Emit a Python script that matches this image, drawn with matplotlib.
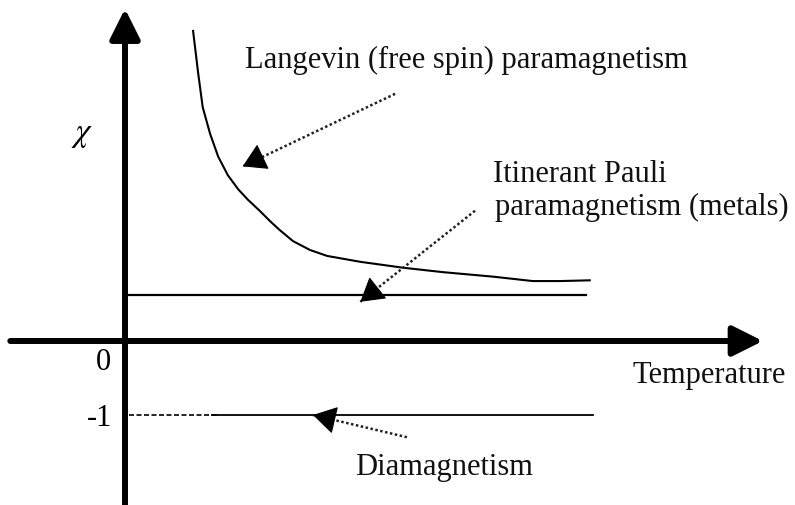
import matplotlib
matplotlib.use('Agg')
import matplotlib.pyplot as pyplot
import numpy


# Schematic susceptibility chi against temperature (arbitrary units)
LANGEVIN_T = [0.92, 0.99, 1.05, 1.15, 1.26, 1.39, 1.53, 1.66, 1.82, 1.96,
              2.09, 2.27, 2.50, 2.73, 3.18, 3.76, 4.30, 4.97, 5.51, 5.88,
              6.28]
LANGEVIN_CHI = [4.19, 3.61, 3.16, 2.80, 2.49, 2.24, 2.05, 1.91, 1.76, 1.62,
                1.50, 1.35, 1.23, 1.15, 1.07, 0.99, 0.93, 0.87, 0.81, 0.81,
                0.82]

PAULI_T = [0.0, 6.23]
PAULI_CHI = [0.62, 0.62]

DIAMAGNETISM_DASHED_T = [0.05, 1.24]
DIAMAGNETISM_SOLID_T = [1.18, 6.32]
DIAMAGNETISM_CHI = -1.0

X_AXIS_RANGE = [-1.55, 8.62]
Y_AXIS_RANGE = [-2.3, 4.49]

# (tail, tip) for the dotted pointers
POINTERS = [
    ((3.65, 3.34), (1.59, 2.36)),
    ((4.73, 1.76), (3.18, 0.53)),
    ((3.81, -1.30), (2.54, -1.00)),
]

LABELS = [
    ('Langevin (free spin) paramagnetism', 1.62, 3.70),
    ('Itinerant Pauli', 4.97, 2.16),
    ('paramagnetism (metals)', 5.00, 1.72),
    ('Diamagnetism', 3.11, -1.80),
    ('Temperature', 6.86, -0.55),
]

FONT = 'Liberation Serif'
FONT_SIZE = 22

pyplot.rcParams['mathtext.fontset'] = 'stix'


def draw_axis_arrow(axes, start, end):
    axes.annotate(
        '', xy=end, xytext=start,
        arrowprops=dict(arrowstyle='-|>,head_length=0.4,head_width=0.2',
                        mutation_scale=46, lw=4.3, color='black',
                        shrinkA=0, shrinkB=0))


def draw_pointer(axes, tail, tip):
    tail = numpy.array(tail)
    tip = numpy.array(tip)
    direction = (tail - tip) / numpy.linalg.norm(tail - tip)
    axes.plot([tail[0], tip[0]], [tail[1], tip[1]], color='#222222',
              lw=1.8, linestyle=(0, (1, 1)))
    axes.annotate(
        '', xy=tip, xytext=tip + direction * 0.22,
        arrowprops=dict(arrowstyle='-|>,head_length=0.5,head_width=0.3',
                        mutation_scale=30, lw=0.8, color='black',
                        shrinkA=0, shrinkB=0))


figure = pyplot.figure(figsize=(7.95, 5.06), dpi=100)
axes = figure.add_axes([0, 0, 1, 1])
axes.set_xlim(-125 / 74, 670 / 74)
axes.set_ylim(-164 / 74, 342 / 74)
axes.axis('off')

draw_axis_arrow(axes, (X_AXIS_RANGE[0], 0), (X_AXIS_RANGE[1], 0))
draw_axis_arrow(axes, (0, Y_AXIS_RANGE[0]), (0, Y_AXIS_RANGE[1]))

axes.plot(LANGEVIN_T, LANGEVIN_CHI, color='black', lw=1.5,
          solid_joinstyle='round')
axes.plot(PAULI_T, PAULI_CHI, color='black', lw=1.6)
axes.plot(DIAMAGNETISM_DASHED_T, [DIAMAGNETISM_CHI] * 2, color='black',
          lw=1.2, linestyle=(0, (3, 1.5)))
axes.plot(DIAMAGNETISM_SOLID_T, [DIAMAGNETISM_CHI] * 2, color='black', lw=1.3)

for tail, tip in POINTERS:
    draw_pointer(axes, tail, tip)

for text, x, y in LABELS:
    axes.text(x, y, text, family=FONT, fontsize=FONT_SIZE, ha='left',
              va='baseline', color='#111111')

axes.text(-0.58, 2.82, r'$\chi$', fontsize=24, ha='center', va='center')
axes.text(-0.19, -0.28, '0', family=FONT, fontsize=FONT_SIZE, ha='right',
          va='center')
axes.text(-0.17, -1.03, '-1', family=FONT, fontsize=FONT_SIZE, ha='right',
          va='center')

figure.savefig('out.png', dpi=100)
